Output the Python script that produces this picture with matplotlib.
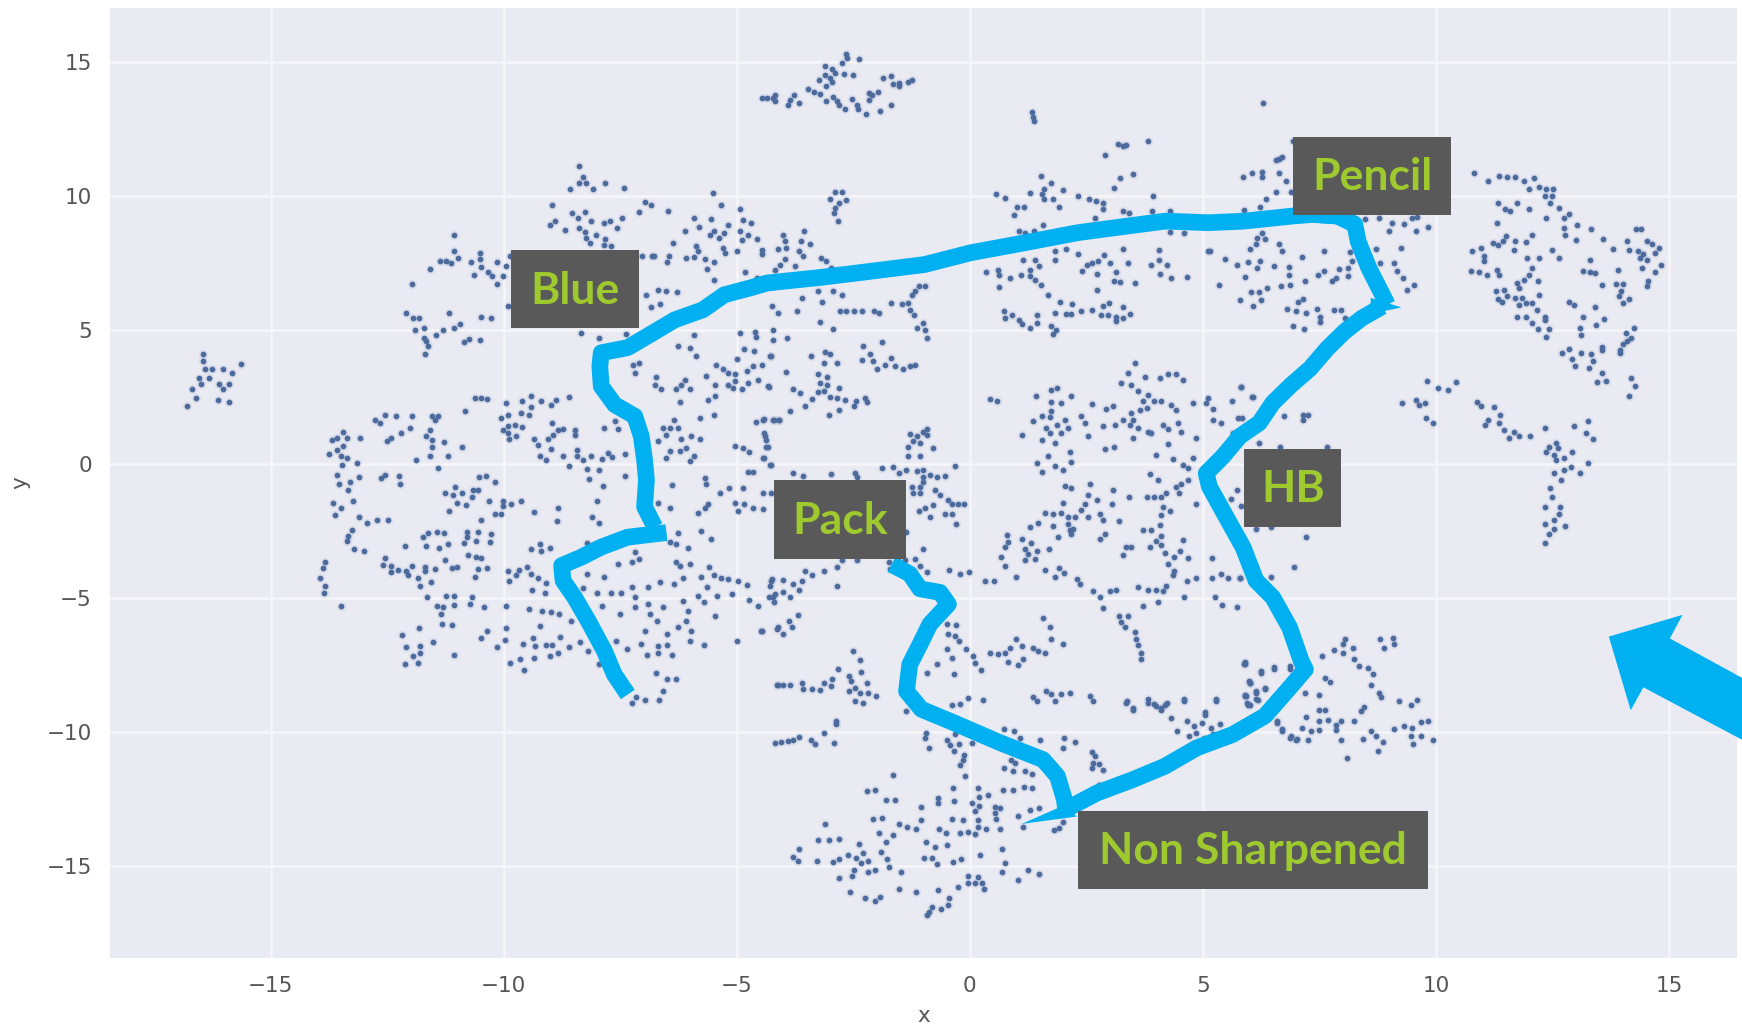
import matplotlib
matplotlib.use("Agg")
import matplotlib.pyplot as plt
from matplotlib.patches import Polygon, Rectangle
import numpy as np

# points, grouped by area of the map
far_left = [(-16.45,4.12),(-16.45,3.83),(-16.41,3.54),(-16.55,3.2),(-16.69,2.79),(-16.79,2.17),(-16.6,2.46),(-16.26,3.54),(-16.02,3.54),(-15.83,3.41),(-15.64,3.74),(-16.12,3.0),(-15.9,3.0),(-16.14,2.38),(-15.9,2.3),(-16.5,3.0),(-16.33,3.21),(-16.02,2.79)]

top = [(-2.65,15.31),(-2.63,15.16),(-2.38,15.11),(-2.75,14.96),(-3.10,14.84),(-2.95,14.75),(-2.89,14.59),(-2.71,14.56),(-2.5,14.5),(-3.1,14.5),(-3.24,14.31),(-3.0,14.38),(-3.08,14.09),(-2.96,14.25),(-1.87,14.41),(-1.69,14.46),(-1.64,14.19),(-1.51,14.21),(-1.51,14.09),(-1.32,14.25),(-1.25,14.31),(-3.47,14.0),(-3.35,13.88),(-3.21,13.81),(-2.16,13.84),(-1.97,13.88),(-2.09,13.75),(-2.16,13.59),(-4.46,13.65),(-4.35,13.65),(-4.23,13.65),(-4.18,13.78),(-4.18,13.53),(-3.77,13.75),(-3.85,13.56),(-3.66,13.47),(-3.91,13.4),(-3.08,13.54),(-2.93,13.69),(-2.85,13.53),(-2.81,13.41),(-2.68,13.25),(-2.52,13.63),(-2.43,13.41),(-2.39,13.25),(-2.22,13.04),(-1.93,13.15),(-1.69,13.38),
       (1.34,13.12),(1.36,12.95),(1.38,12.8),(3.17,11.94),(3.28,11.88),(3.36,11.91),(3.82,12.06),(2.91,11.53),(3.5,10.81),(3.22,10.65),(3.09,10.31),(6.30,13.47)]

upper_mid = [(1.52,10.75),(1.75,10.48),(1.6,10.25),(1.54,10.06),(1.29,10.1),(1.6,9.88),(2.0,10.21),(0.56,10.06),(0.75,9.94),(1.79,9.88),(1.92,9.6),(2.32,9.98),(2.55,9.88),(2.7,9.81),(2.85,9.75),(2.85,9.5),(1.02,9.6),(1.17,9.6),(0.94,9.29),(2.69,9.16),(3.28,9.44),(3.41,9.38),(3.93,9.98),(3.91,9.44),(4.29,9.44),(1.06,8.69),(1.19,8.6),(1.38,8.69),(1.57,8.9),
             (1.83,7.94),(2.06,8.03),(2.32,7.85),(2.88,7.81),(3.28,8.03),(4.05,7.98),(4.29,8.66),(4.6,8.6),(5.12,7.94),(1.13,7.6),(1.4,7.6),(1.83,7.6),(2.63,7.5),(2.75,7.56),(2.52,7.44),(2.4,7.19),(3.01,7.5),(3.4,7.5),(4.05,7.6),(3.88,7.44),(4.23,7.44),(0.6,7.25),(0.62,7.06),(0.35,7.15),(0.87,6.94),(1.1,7.04),(1.29,7.25),(1.48,7.38),(1.29,7.0),(1.4,6.88),(1.53,6.66),(0.62,6.6),(2.73,7.09),(3.13,7.16),(3.09,6.84),(3.22,6.79),(3.55,6.75),(4.07,7.1),(4.32,6.94),(4.66,6.98),(2.73,6.5),(1.67,6.29),(1.94,6.03),(2.19,5.96),(1.83,5.63),(2.06,5.6),(2.17,5.6),(2.38,5.69),(2.63,5.75),(2.86,5.91),(2.99,6.0),(3.28,5.85),(0.73,5.69),(0.75,5.44),(0.91,5.56),(1.06,5.38),(1.11,5.21),(1.29,5.06),(1.44,5.56),(1.44,5.25),(1.73,5.16),(1.84,5.0),(1.79,4.85),(2.82,5.54),(2.97,5.54),(3.13,5.5),(3.13,5.34),(3.28,5.44),(3.43,5.59)]

upper_left_mid = [(-5.52,10.1),(-5.35,9.66),(-4.94,9.5),(-6.47,9.44),(-5.92,9.19),(-5.56,9.13),(-4.87,9.1),(-4.69,9.0),(-5.82,8.85),(-5.19,8.91),(-6.11,8.69),(-5.5,8.69),(-5.58,8.56),(-5.27,8.6),(-5.38,8.44),(-4.94,8.69),(-4.76,8.56),(-4.56,8.41),(-4.9,8.35),(-4.0,8.56),(-3.56,8.69),(-3.96,8.31),(-3.62,8.31),(-3.44,8.19),(-6.38,8.25),(-5.88,8.13),(-5.84,7.94),(-5.3,8.06),(-5.26,7.88),(-5.0,7.94),(-4.46,8.0),(-4.46,7.85),(-4.12,8.03),(-3.94,8.06),(-3.67,7.94),(-3.58,7.75),(-6.82,7.75),(-6.46,7.75),(-6.1,7.69),(-5.92,7.71),(-5.69,7.65),(-6.5,7.54),(-5.48,7.54),(-3.96,7.63),(-4.08,7.44),(-3.2,7.69),(-3.08,7.59),(-3.75,7.38),(-5.65,7.28),(-4.19,7.25),(-4.82,7.15),(-2.97,7.31),(-5.5,6.88),(-4.56,6.94),
                  (-6.69,6.5),(-6.53,6.44),(-6.28,6.4),(-6.65,5.96),(-3.26,6.44),(-2.93,6.44),(-2.75,6.29),(-3.6,6.19),(-3.18,6.03),(-4.25,5.88),(-4.12,5.63),(-3.7,5.69),(-2.78,5.69),(-2.66,5.69),(-2.49,5.71),(-2.32,5.69),(-2.05,5.71),(-1.95,5.63),(-1.7,6.0),(-1.45,5.96),(-1.32,6.0),(-1.28,5.75),(-1.19,5.56),(-1.24,6.31),(-1.17,6.44),(-1.09,6.63),(-0.97,6.63),(-3.21,5.29),(-2.94,5.04),(-1.13,5.09),(-1.01,5.25),(-0.97,5.0),(-0.93,4.71),(-4.94,4.88),(-4.62,4.94),(-4.58,4.75),(-4.22,4.98),(-4.23,4.63),(-3.93,4.71),(-5.92,4.81),
                  (-2.89,10.16),(-2.74,10.13),(-3.01,9.9),(-2.66,9.84),(-2.81,9.75),(-2.89,9.56),(-2.91,9.38),(-2.84,9.06)]

upper_left = [(-8.38,11.13),(-8.3,10.69),(-8.38,10.5),(-8.24,10.5),(-8.57,10.25),(-8.08,10.25),(-7.82,10.48),(-7.43,10.31),(-8.97,9.66),(-6.96,9.78),(-6.84,9.66),(-7.09,9.4),(-8.54,9.35),(-8.25,9.4),(-8.4,9.16),(-8.12,9.06),(-7.72,9.06),(-7.47,9.16),(-7.84,9.0),(-8.9,9.06),(-9.0,8.9),(-8.68,8.71),(-8.38,8.79),(-8.25,8.66),(-8.03,8.56),(-7.57,8.79),(-8.24,8.44),(-7.82,8.41),(-8.15,8.25),(-7.84,8.15),(-7.69,8.13),(-7.19,7.81),(-7.03,7.75),(-6.78,7.75),
              (-11.06,8.53),(-11.07,7.94),(-10.98,7.69),(-11.36,7.59),(-11.25,7.59),(-11.13,7.48),(-11.59,7.28),(-11.96,6.73),(-10.52,7.88),(-10.52,7.66),(-10.71,7.53),(-10.15,7.54),(-9.87,7.75),(-9.95,7.38),(-10.5,7.34),(-10.64,7.06),(-10.34,7.16),(-10.25,7.0),(-10.02,7.0),(-10.15,6.73),(-9.91,5.88),
              (-12.09,5.63),(-11.95,5.44),(-11.82,5.44),(-11.72,5.09),(-11.9,5.0),(-11.71,4.69),(-11.17,5.63),(-10.48,5.5),(-10.28,5.46),(-10.94,5.21),(-11.06,5.06),(-11.3,4.98),(-11.46,4.81),(-10.75,4.66),(-10.52,4.63),(-8.34,4.88),(-7.95,4.71),(-7.38,4.84),(-6.94,6.29),(-6.84,5.84),(-11.66,4.59),(-11.62,4.41),(-11.69,4.09),(-10.86,4.55)]

left_inner = [(-7.23,3.71),(-7.09,3.78),(-7.19,3.4),(-6.74,3.25),(-6.76,2.96),(-6.62,2.78),(-6.26,4.4),(-6.01,4.34),(-5.87,4.03),(-6.12,3.15),(-6.19,2.96),(-6.3,2.78),(-6.01,2.78),(-6.21,2.3),(-6.34,1.65),(-5.8,1.71),(-5.48,1.84),(-5.62,2.4),(-5.46,2.55),(-5.66,3.28),(-5.46,2.96),(-5.44,3.71),(-5.3,3.53),(-5.19,3.4),(-5.05,3.34),(-5.05,3.09),(-5.19,2.96),(-5.09,2.84),(-4.89,2.78),(-4.76,3.03),(-4.55,3.15),(-4.3,2.88),(-5.0,3.9),(-4.84,4.3),(-4.63,4.21),(-4.26,4.03),(-4.66,3.65),(-4.46,3.71),(-4.78,3.46),
              (-4.59,1.56),(-4.42,1.68),(-4.23,1.63),(-4.09,1.63),(-4.41,1.15),(-4.37,0.9),(-4.34,0.65),(-5.05,0.68),(-4.87,0.59),(-4.73,0.46),(-4.42,0.21),(-4.26,-0.04),(-4.76,-0.29),(-4.65,-0.29),
              (-6.59,1.34),(-6.44,1.34),(-6.26,1.34),(-6.51,1.09),(-6.69,0.86),(-6.19,0.94),(-5.98,1.03),(-5.8,0.94),(-6.09,0.61),(-6.44,0.49),(-6.23,0.49),(-6.51,0.21),(-5.91,0.31),(-6.01,0.11),
              (-5.68,-0.54),(-5.66,-0.76),(-6.39,-0.79),(-5.16,-0.88),(-4.87,-0.88),(-5.37,-1.1),(-4.44,-1.1),(-4.26,-1.1),(-5.05,-1.44),(-4.84,-1.48),(-4.66,-1.66),(-4.43,-1.69),(-4.98,-1.75),(-5.69,-1.66),(-5.84,-1.83),(-5.62,-1.48),(-6.69,-1.44),(-6.44,-1.66),
              (-6.26,-2.56),(-5.76,-2.5),(-5.55,-2.79),(-6.44,-2.91),(-6.3,-3.0),(-6.05,-3.13),(-6.3,-3.66),(-6.23,-3.79),(-6.01,-3.73),(-5.59,-3.85),(-5.48,-4.16),(-5.34,-4.25),(-5.18,-4.29),(-4.97,-4.38),(-4.78,-4.5),(-5.76,-4.2),(-6.16,-4.25),(-6.34,-4.48),(-5.64,-4.6),(-6.64,-4.41),(-5.84,-4.91),(-5.7,-5.16),(-5.42,-4.91),(-5.11,-4.85),(-4.73,-5.08),(-4.55,-5.29),(-6.16,-5.1),(-6.05,-5.5),(-5.46,-5.69),(-6.09,-5.85),(-6.26,-6.1),(-5.98,-6.23),(-6.01,-6.6),(-5.71,-6.75),(-4.99,-6.6),(-4.48,-6.23),(-4.26,-4.35),(-4.23,-4.98),(-4.12,-6.1),(-4.12,-8.23)]

left_upper = [(-10.49,2.46),(-10.62,2.46),(-10.37,2.43),(-10.84,1.96),(-9.96,2.28),(-9.62,2.34),(-9.41,2.55),(-9.21,2.34),(-8.87,2.38),(-8.98,2.19),(-8.61,2.5),(-9.41,2.11),(-9.64,1.9),(-9.46,1.84),(-9.92,1.84),(-10.05,1.71),(-9.76,1.46),(-9.62,1.38),(-9.91,1.4),(-10.01,1.28),(-9.91,1.15),(-9.73,1.03),(-9.89,0.93),(-8.96,1.53),(-8.84,1.28),(-8.73,1.3),(-8.94,1.09),(-8.48,1.28),(-8.48,1.09),(-9.06,0.93),(-9.36,0.94),(-9.26,0.71),(-8.99,0.55),(-9.23,0.31),(-9.09,0.15),(-8.73,0.28),(-8.44,0.53),(-8.44,0.28),(-8.3,0.15),(-8.14,0.28),(-7.89,0.18),(-7.76,0.4),(-7.68,0.25),(-7.41,0.38),(-8.61,-0.08),(-8.21,-0.19),(-7.96,-0.23),(-8.18,-0.56),(-7.39,-0.45),(-7.87,-0.83),(-7.84,1.34),(-7.61,1.59),(-7.55,1.3),
              (-12.76,1.65),(-12.66,1.53),(-12.55,1.84),(-12.32,1.8),(-11.98,1.8),(-11.55,1.8),(-11.41,1.8),(-11.48,1.65),(-12.02,1.36),(-12.2,1.15),(-12.41,0.96),(-12.51,0.86),(-11.59,1.28),(-11.66,1.03),(-11.55,0.9),(-11.55,0.65),(-11.59,0.28),(-11.29,0.81),(-10.89,0.65),(-11.19,0.31),(-11.89,0.15),(-11.42,-0.16),
              (-13.46,1.19),(-13.69,0.9),(-13.59,0.96),(-13.36,0.96),(-13.09,0.96),(-13.46,0.68),(-13.59,0.53),(-13.76,0.38),(-13.49,0.31),(-13.36,0.21),(-13.47,-0.04),(-13.16,0.05),(-13.59,-0.41),(-13.11,-0.5),(-13.3,-0.66),(-13.54,-0.76),(-13.34,-0.98),(-13.23,-1.38),(-13.67,-1.44),(-13.5,-1.66),(-13.62,-1.91),(-13.1,-1.98),(-12.94,-2.19),(-12.73,-2.08),(-12.48,-2.08),(-13.26,-2.48),(-13.34,-2.69),(-13.36,-2.89),(-13.21,-3.19),(-13.0,-3.23),
              (-12.55,-0.41),(-12.64,-0.54),(-12.25,-0.45),(-12.23,-0.76),
              (-10.54,-0.5),(-10.39,-0.44),(-10.18,-0.66),(-10.66,-0.98),(-10.55,-0.98),(-10.69,-1.23),(-11.05,-0.85),(-11.26,-1.08),(-11.09,-1.16),(-10.89,-1.08),(-11.01,-1.44),(-10.82,-1.54),(-11.17,-1.76),(-10.32,-1.38),(-10.01,-1.38),(-9.84,-1.48),(-9.64,-1.38),(-10.01,-1.58),(-10.19,-1.85),(-10.05,-1.85),(-9.36,-1.81),(-8.84,-1.64),(-8.86,-2.14),(-8.01,-1.38),(-8.11,-1.98),(-7.96,-2.19),(-10.5,-2.08)]

left_lower = [(-11.73,-2.73),(-11.62,-2.58),(-11.44,-2.54),(-11.29,-2.58),(-11.66,-3.06),(-11.39,-3.13),(-11.19,-3.0),(-10.8,-2.54),(-10.8,-2.73),(-10.55,-2.54),(-10.59,-2.89),(-10.85,-2.95),(-10.28,-2.63),(-10.3,-2.91),(-12.11,-3.06),
              (-10.76,-3.38),(-10.59,-3.48),(-10.48,-3.5),(-12.55,-3.5),(-12.59,-3.76),(-12.41,-3.79),(-12.41,-4.04),(-12.26,-3.95),(-12.09,-3.98),(-11.98,-3.79),(-12.05,-4.16),(-11.84,-4.25),(-11.8,-4.54),(-11.69,-3.85),(-11.69,-4.0),(-11.48,-3.91),(-11.56,-4.41),(-11.26,-3.6),(-11.12,-3.89),(-11.0,-3.83),(-10.55,-3.91),(-10.37,-3.89),(-10.62,-4.23),
              (-9.41,-3.16),(-9.23,-3.0),(-9.01,-3.13),(-9.21,-3.25),(-8.21,-2.95),(-9.92,-3.98),(-9.68,-3.95),(-9.73,-4.16),(-9.89,-4.38),(-9.51,-3.85),(-9.41,-4.1),(-9.26,-4.25),(-9.09,-4.44),(-9.39,-4.7),(-9.11,-4.81),(-8.21,-4.1),(-7.84,-4.2),(-8.3,-4.64),(-8.01,-4.81),(-7.69,-4.81),(-7.48,-4.81),(-7.26,-4.6),(-7.19,-4.98),(-6.91,-4.6),(-7.19,-5.35),(-6.91,-5.23),(-6.59,-5.35),(-6.87,-5.58),(-7.51,-5.58),(-7.89,-5.31),(-6.71,-5.85),(-7.55,-3.73),(-7.26,-3.66),(-7.09,-3.56),(-7.18,-3.29),
              (-11.64,-4.98),(-11.23,-4.91),(-11.07,-4.91),(-10.68,-4.98),(-11.44,-5.31),(-11.3,-5.35),(-11.06,-5.25),(-10.73,-5.23),(-10.42,-5.35),(-9.96,-5.31),(-9.46,-5.41),(-9.18,-5.48),(-8.98,-5.54),(-8.81,-5.58),(-11.35,-5.58),(-13.5,-5.29),
              (-11.32,-5.98),(-11.12,-6.0),(-11.82,-6.13),(-9.23,-6.06),(-8.55,-5.85),(-10.36,-6.23),(-9.96,-6.13),(-10.5,-6.5),(-9.98,-6.56),(-9.37,-6.5),(-8.8,-6.44),
              (-12.18,-6.39),(-12.09,-6.83),(-11.8,-6.79),(-11.51,-6.66),(-11.94,-7.16),(-11.8,-7.04),(-12.11,-7.48),(-11.84,-7.44),(-11.07,-7.14),
              (-10.14,-6.83),(-9.59,-6.73),(-9.34,-6.79),(-9.09,-6.75),(-8.96,-6.75),(-8.61,-6.83),(-8.36,-6.66),(-8.19,-6.98),(-9.01,-7.16),(-8.84,-7.06),(-9.36,-7.23),(-9.66,-7.29),(-9.87,-7.44),(-9.56,-7.7),(-7.96,-7.48),
              (-7.59,-6.6),(-7.36,-6.89),(-7.05,-6.73),(-6.98,-6.23),(-6.49,-6.35),(-6.69,-6.79),(-6.49,-6.75),(-6.69,-7.04),(-6.92,-7.14),(-6.39,-7.14),(-6.74,-7.81),(-6.49,-8.04),(-6.3,-8.04),(-6.59,-8.48),(-6.68,-8.79),(-7.16,-8.7),(-6.98,-8.79),(-7.25,-8.91),
              (-13.84,-3.66),(-13.88,-3.88),(-13.94,-4.26),(-13.84,-4.54),(-13.86,-4.83)]

centre_left = [(-4.29,4.03),(-3.41,4.03),(-3.11,4.18),(-3.01,4.09),(-3.14,3.75),(-2.86,3.75),(-3.94,3.43),(-2.32,3.86),(-2.14,4.09),(-2.3,4.4),(-1.89,4.55),(-2.07,3.84),(-2.0,3.53),(-1.82,3.68),(-1.7,3.96),(-1.61,3.65),(-1.43,3.53),(-1.29,3.65),(-1.18,3.71),
               (-3.25,3.34),(-3.07,3.25),(-3.21,3.03),(-3.07,2.96),(-2.8,2.84),(-3.79,2.78),(-3.64,2.65),(-3.25,2.68),(-3.39,2.43),(-3.14,2.71),(-3.0,2.5),(-2.86,2.46),(-2.68,2.38),(-2.44,2.34),(-2.48,2.18),(-2.25,2.46),(-2.2,2.31),(-3.54,2.15),(-3.86,1.99),(-2.8,2.03),(-3.02,1.84),(-4.34,2.9),
               (-4.44,1.65),(-4.21,1.63),(-4.1,1.63),(-4.39,1.03),(-4.37,0.65),(-4.44,0.21),(-4.29,-0.04),
               (-1.29,1.13),(-1.14,1.03),(-1.0,1.21),(-0.91,1.09),(-1.21,0.84),(-1.07,0.78),(-1.32,0.63),(-0.8,0.59),(-1.32,0.3),(-1.07,0.31),(-0.93,1.3),
               (-1.89,-0.16),(-1.64,-0.1),(-1.52,-0.35),(-1.36,-0.23),(-1.14,-0.25),(-1.0,-0.23),(-0.32,-0.06),(-3.8,-0.33),(-3.57,-0.45),(-2.99,-0.39),(-2.46,-0.35),(-2.43,-0.48),(-1.0,-0.48),(-0.86,-0.41),(-0.71,-0.5),(-0.53,-0.44),(-1.0,-0.66),(-1.25,-0.85),(-1.07,-0.85),(-1.21,-1.1),(-1.06,-1.1),(-0.75,-0.98),(-0.64,-1.16),(-0.46,-1.33),(-0.39,-1.48),(-0.25,-1.48),(-0.12,-1.51),(-0.79,-1.54),(-0.96,-1.66),(-1.09,-1.75),(-0.86,-1.98),(-0.54,-1.85),(-0.39,-1.85),(-0.3,-2.25),
               (-1.36,-2.54),(-1.0,-3.16),(-1.18,-3.54),(-1.07,-3.79),(-0.93,-4.04),(-0.44,-3.95),(-0.21,-4.1),(-0.02,-4.04),(0.32,-4.38),(0.52,-4.38),(1.0,-4.23),(-1.74,-3.66),(-1.54,-3.6),(-1.39,-3.6),(-1.71,-3.91),
               (-2.75,-3.6),(-2.43,-3.6),(-2.86,-3.83),(-3.14,-3.98),(-3.54,-3.98),(-3.39,-4.16),(-3.61,-4.35),(-3.79,-4.48),(-4.01,-4.31),(-4.25,-4.29),(-4.29,-4.54),(-2.86,-4.54),(-4.0,-4.79),(-4.18,-4.85),(-3.66,-4.7),(-3.86,-4.98),(-4.3,-4.98),(-4.2,-5.16),
               (-3.68,-5.63),(-3.89,-5.85),(-4.14,-6.16),(-4.0,-6.35),(-3.82,-6.1),(-4.46,-6.23)]

centre_right = [(0.43,2.43),(0.59,2.34),(1.41,2.53),(1.75,2.75),(1.86,2.84),(2.16,2.55),(1.96,2.28),(1.73,2.3),(2.63,2.24),(2.93,2.05),(3.07,2.15),(1.75,1.96),(1.54,1.78),(1.36,1.59),(1.71,1.75),(1.64,1.34),(1.86,1.46),(2.04,1.65),(2.11,1.34),(1.96,1.15),(1.71,1.15),(1.54,0.9),(1.82,0.78),(1.11,1.09),(2.14,0.46),(2.18,0.09),(1.68,0.28),(1.44,0.05),(1.82,-0.08),(2.0,-0.23),(1.54,-0.29),(2.39,1.78),(2.46,1.53),(2.54,1.03),(2.86,1.4),(3.11,1.46),(3.29,1.65),(2.89,0.55),(3.09,0.65),
                (3.54,3.78),(3.39,3.4),(3.25,3.03),(3.75,3.25),(4.07,3.21),(4.25,3.34),(4.43,3.34),(4.57,3.15),(3.46,2.96),(3.61,2.71),(3.82,2.59),(3.71,2.34),(3.96,2.34),(4.11,2.34),(3.64,2.03),(3.79,2.09),(3.46,1.9),(3.5,1.65),(3.43,1.46),(3.61,1.34),(3.5,0.96),(3.82,1.21),(3.89,1.15),(4.14,1.46),(4.32,2.21),(4.43,2.0),(4.25,1.3),(4.46,1.53),(4.54,1.18),(4.25,0.75),(4.86,0.96),(4.79,2.28),(5.07,2.28),(5.21,2.05),(5.11,2.46),(5.21,1.65),(5.39,1.53),(5.75,1.71),(5.63,2.34),(5.82,2.88),(6.07,2.5),(5.64,1.15),
                (4.0,0.34),(4.36,0.18),(4.57,-0.04),(4.79,0.21),(4.68,-0.16),(3.86,-0.39),(4.04,-0.6),(4.68,-0.58),(4.54,-0.73),(4.43,-0.85),(4.49,-1.1),(4.86,-1.48),
                (2.04,-0.81),(2.18,-0.89),(2.57,-0.76),(3.07,-0.98),(2.53,-1.16),(2.72,-1.33),(3.04,-1.48),(2.46,-1.48),(3.41,-1.23),(3.79,-1.23),(3.96,-1.25),(4.11,-1.25),(4.21,-1.1),(2.0,-1.45),(2.38,-1.7),(1.61,-1.83),(1.79,-1.88),(1.96,-1.83),(2.11,-1.98),(2.25,-1.98),(2.53,-1.98),(2.79,-1.85),(2.86,-2.1),(3.21,-2.14),(4.14,-1.6),(4.29,-1.76),(4.1,-1.91),(1.46,-2.2),(1.29,-2.35),(1.79,-2.33),(2.11,-2.23),(2.14,-2.45),(2.21,-2.41),(2.16,-2.63),(2.89,-2.63),(2.79,-2.81),(1.89,-2.73),(4.07,-2.29),(3.71,-2.48),(3.89,-2.48),(4.11,-2.69),(4.0,-2.89),(3.86,-3.1),(4.11,-3.04),(4.57,-2.85),(4.5,-3.23),(4.39,-3.48),(4.18,-3.33),(4.68,-3.51),(4.25,-3.73),(4.39,-3.98),(4.36,-4.16),(3.36,-3.1),(3.29,-3.41),(3.46,-3.1),
                (0.79,-2.66),(0.82,-2.91),(1.11,-2.79),(1.32,-2.95),(1.7,-3.19),(0.75,-3.1),(0.66,-3.48),(0.76,-3.79),(1.18,-3.16),(1.43,-3.23),(1.25,-3.35),(1.18,-3.6),(1.39,-3.54),(1.61,-3.94),(1.91,-3.88),(1.82,-4.23),(2.01,-4.08),(2.29,-4.29),(2.36,-4.48),(2.64,-4.73),(2.79,-4.98),(3.0,-4.73),(3.14,-4.69),(3.61,-4.6),(3.82,-4.69),(4.0,-4.69),(4.14,-4.73),(4.21,-4.54),(4.04,-5.16),(3.71,-5.31),(2.86,-5.39),(4.66,-4.38),(4.86,-4.25),(4.59,-4.98),(5.2,-3.5),(5.19,-4.26),(5.39,-4.1),(5.54,-4.25),(5.79,-4.25),(5.25,-4.98),(5.41,-5.25),(5.73,-5.35),
                (3.21,-5.66),(3.39,-5.66),(3.25,-5.91),(3.32,-6.08),(3.54,-6.25),(3.57,-6.54),(3.61,-6.75),(3.68,-7.04),(3.68,-7.29),(5.73,-0.98),(5.61,-1.29),(5.82,-1.56)]

mid_lower = [(-0.5,-5.98),(-0.29,-6.0),(-0.46,-6.33),(-0.32,-6.41),(-0.24,-6.6),(-0.09,-6.91),(-0.5,-6.91),(0.07,-7.16),(0.11,-7.41),(-0.39,-7.25),(0.23,-7.7),(-0.71,-7.48),(-0.93,-7.81),(-0.34,-7.85),
             (0.44,-7.04),(0.61,-7.08),(0.75,-7.04),(0.86,-6.85),(0.82,-7.39),(1.04,-7.51),(1.14,-7.29),(1.0,-6.54),(1.11,-6.79),(1.36,-6.85),(1.46,-6.98),(1.61,-7.04),(1.75,-6.54),(2.0,-6.73),(1.57,-5.73),(1.71,-6.1),
             (-0.21,-8.94),(-0.04,-8.73),(-0.39,-9.0),(0.29,-8.79),(1.36,-8.7),(1.43,-8.85),(1.64,-8.48),(1.75,-8.6),(1.82,-8.85),(1.96,-8.58),(2.14,-8.54),(2.57,-8.66),(2.64,-8.83),
             (3.36,-8.91),(3.5,-9.16),(3.82,-8.91),(4.0,-9.04),(4.18,-8.98),(4.11,-9.16),(4.59,-8.85),(5.29,-8.85),(5.04,-9.35),(5.91,-7.48),(6.0,-8.16),(5.93,-8.66),(6.0,-8.98),
             (-4.14,-8.23),(-4.0,-8.23),(-3.86,-8.25),(-3.61,-8.16),(-3.57,-8.41),(-3.39,-8.41),(-3.21,-8.45),(-3.14,-8.16),(-2.96,-8.04),(-2.99,-8.29),(-2.84,-7.66),(-2.6,-7.91),(-2.51,-6.98),(-2.36,-7.33),(-2.34,-7.75),(-2.56,-8.1),(-2.2,-8.16),(-2.6,-8.48),(-2.46,-8.35),(-2.36,-8.54),(-2.18,-8.54),(-2.01,-8.66),(-2.46,-8.85),(-2.29,-8.91),(-1.36,-9.23)]

bottom = [(-2.88,-9.59),(-2.88,-9.71),(-3.13,-10.03),(-3.66,-10.18),(-4.18,-10.4),(-4.06,-10.36),(-3.91,-10.34),(-3.8,-10.3),(-3.41,-10.3),(-3.32,-10.43),(-2.91,-10.4),
          (-0.94,-10.03),(-0.97,-10.24),(-0.87,-10.61),(-0.5,-10.28),(-0.42,-10.5),(-0.31,-10.09),(-0.23,-10.43),(-0.33,-10.71),(-0.13,-10.84),(-0.15,-11.03),(-0.21,-11.24),(0.04,-10.4),(-0.1,-11.65),
          (0.74,-9.9),(0.94,-9.96),(1.07,-10.21),(1.5,-10.3),(2.01,-10.24),(2.25,-10.36),(1.99,-10.61),(2.61,-10.74),(2.68,-10.9),(2.65,-11.15),(2.61,-11.36),(2.76,-11.21),(2.85,-11.4),
          (0.88,-11.03),(0.96,-11.15),(0.73,-11.34),(0.92,-11.46),(1.19,-11.46),(1.34,-11.55),(2.78,-11.96),
          (0.71,-12.15),(0.92,-12.15),(1.17,-12.05),(1.34,-12.09),(1.28,-12.9),(1.48,-12.84),(1.04,-13.15),(1.15,-13.55),(1.8,-13.65),(1.92,-13.59),(1.99,-13.34),
          (0.17,-12.09),(-0.37,-12.09),(0.19,-12.44),(0.38,-12.34),(0.04,-12.65),(0.19,-12.75),(0.11,-12.96),(0.54,-12.78),(0.65,-12.84),(0.54,-13.03),(0.56,-13.24),(-0.35,-12.59),(-0.69,-12.46),(-0.69,-12.65),(-1.04,-12.8),
          (-1.04,-13.28),(-0.38,-13.24),(-0.15,-13.3),(0.18,-13.28),(0.18,-13.55),(0.35,-13.63),(0.65,-13.63),(-0.67,-13.61),(-0.52,-13.78),(-0.21,-13.78),(-0.04,-13.74),(0.1,-13.8),(-1.15,-13.63),(-1.34,-13.55),(-1.53,-13.43),
          (-1.65,-11.59),(-2.21,-12.21),(-2.03,-12.15),(-1.79,-12.55),(-1.61,-12.55),(-2.07,-13.24),(-1.89,-13.21),(-3.11,-13.44),(-1.94,-13.78),(-1.65,-13.86),(-1.79,-14.11),(-3.26,-14.03),(-3.03,-14.03),(-2.81,-14.0),(-2.38,-14.18),(-3.66,-14.38),(-3.8,-14.65),(-3.68,-14.8),(-3.27,-14.8),(-2.94,-14.86),(-2.81,-14.74),(-2.61,-14.59),(-2.45,-14.71),(-2.3,-14.53),(-2.19,-14.8),(-2.34,-14.9),(-1.9,-14.49),(-1.78,-14.75),(-1.73,-15.03),(-2.03,-15.15),(-2.19,-15.24),(-2.48,-15.15),(-2.53,-15.36),(-2.81,-15.46),(-1.48,-15.21),(-2.57,-15.96),(-2.26,-16.21),(-2.03,-16.3),(-1.92,-16.15),(-1.53,-15.84),(-1.15,-15.96),(-0.69,-15.9),
          (-0.94,-14.09),(-0.75,-14.28),(-0.5,-14.21),(-0.98,-14.69),(-0.81,-14.69),(-0.71,-14.93),(-0.37,-14.86),(-0.18,-14.75),(0.21,-14.59),(0.69,-14.38),(0.75,-14.9),(0.69,-15.24),(1.25,-15.15),(1.48,-15.31),(1.04,-15.53),
          (-0.05,-15.36),(0.18,-15.4),(-0.04,-15.65),(0.1,-15.65),(0.27,-15.65),(0.31,-15.86),(-0.25,-15.78),(-0.44,-16.18),(-0.46,-16.46),(-0.61,-16.59),(-0.81,-16.53),(-0.88,-16.71),(-0.92,-16.84),
          (5.9,-7.4),(6.25,-7.74),(6.53,-7.56),(6.86,-7.53),(5.98,-8.09),(6.13,-8.46),(6.34,-8.34),(5.9,-8.63),(5.94,-8.9),(6.13,-8.78),(6.6,-9.59),(6.7,-9.9),(6.9,-10.15),(7.02,-10.25),(5.04,-9.25),(5.28,-8.78),(4.6,-8.78),(4.32,-9.46),(4.65,-9.59),(4.81,-9.78),(4.98,-9.65),(5.18,-9.84),(5.37,-9.71),(4.45,-9.96),(4.7,-10.15),(4.85,-10.03),(5.02,-10.21),(5.21,-10.09),(3.37,-8.84),(3.51,-9.09),(3.83,-8.78),(3.95,-8.96),(4.1,-9.09),(4.22,-8.9)]

right_mid = [(9.81,3.09),(10.04,2.84),(10.25,2.75),(10.44,3.05),(9.27,2.28),(9.57,2.38),(9.64,2.21),(9.77,2.28),(9.79,1.71),(9.94,1.53),(10.89,2.31),(10.96,2.18),(11.25,2.11),(11.38,1.84),(11.11,1.65),(11.06,1.44),(11.36,1.53),(11.46,1.28),(11.57,0.96),(11.68,1.21),(11.79,1.03),(12.02,1.03),(12.34,1.34),(12.96,1.4),(13.27,1.59),(13.21,1.15),(13.36,0.94),
             (12.57,0.78),(12.43,0.65),(12.37,0.43),(12.61,0.59),(12.54,0.34),(12.75,0.21),(12.93,0.43),(12.57,0.13),(13.27,0.05),(12.89,-0.1),(12.75,-0.23),(12.54,-0.35),(13.09,-0.35),(12.68,-0.6),(12.44,-0.91),(12.5,-1.25),(12.34,-1.6),(12.66,-1.6),(12.64,-1.85),(12.54,-2.1),(12.34,-2.25),(12.77,-2.3),(12.54,-2.41),(12.43,-2.6),(12.34,-2.95),
             (12.7,4.13),(12.86,4.3),(13.11,4.13),(12.93,3.93),(12.99,3.65),(13.32,4.09),(13.36,3.84),(13.29,3.59),(13.56,4.38),(13.96,4.24),(13.56,3.4),(13.46,3.05),(13.64,3.09),(14.19,3.21),(14.28,2.9),(14.14,2.55),(14.11,4.59),
             (6.06,2.5),(5.82,2.88),(7.14,1.84),(7.25,1.84),(7.14,1.65),(6.75,1.8),(5.84,1.71),(6.21,0.78),(6.66,0.63),(7.66,0.63),(6.14,-2.44),(6.46,-2.35),(7.21,-2.73),(6.96,-3.83),(6.46,-4.23),(5.79,-4.25)]

lower_right = [(8.04,-6.54),(8.0,-6.73),(7.82,-6.95),(8.0,-7.04),(7.56,-7.16),(8.21,-6.88),(8.25,-7.29),(8.36,-7.54),(8.54,-7.6),(8.64,-7.85),(8.6,-8.25),(8.78,-8.54),(8.82,-8.7),(8.79,-6.54),(9.07,-6.48),(8.89,-6.88),(9.09,-6.73),(7.61,-8.0),(7.73,-8.13),(7.18,-8.56),(7.5,-8.63),(7.5,-9.16),(7.61,-9.16),(8.39,-9.23),(8.46,-9.08),(9.21,-8.85),(9.46,-8.98),(9.59,-8.79),
               (7.21,-9.45),(6.59,-9.66),(6.69,-9.98),(7.12,-9.85),(7.31,-9.98),(7.5,-9.6),(7.5,-9.91),(7.68,-9.54),(7.86,-9.73),(7.96,-9.6),(7.86,-9.91),(8.25,-9.6),(6.86,-10.23),(7.0,-10.31),(7.25,-10.31),(7.96,-10.31),(8.44,-10.25),(8.6,-9.98),(8.71,-10.16),(8.87,-10.38),(8.75,-10.7),(8.09,-10.98),(9.11,-9.88),(9.31,-9.76),(9.49,-9.85),(9.68,-9.64),(9.82,-9.6),(9.46,-10.13),(9.68,-10.16),(9.5,-10.45),(9.94,-10.31),
               (5.89,-7.48),(6.25,-7.81),(6.52,-7.66),(6.86,-7.66),(6.0,-8.16),(6.14,-8.54),(6.34,-8.41),(5.9,-8.66),(5.96,-8.98),(6.18,-8.79)]

upper_right = [(10.81,10.85),(11.11,10.56),(11.36,10.75),(11.52,10.69),(11.7,10.69),(11.89,10.56),(12.11,10.66),(12.0,10.25),(12.22,10.34),(12.37,10.25),(12.52,10.25),(12.48,10.0),(12.33,10.0),(12.44,9.75),(12.63,9.56),(12.85,9.31),(12.74,9.16),(11.33,9.73),(11.48,9.5),(11.59,9.44),(11.73,9.75),(11.99,9.5),(12.37,9.19),(11.31,9.0),(13.02,8.91),(12.74,8.81),(12.78,8.56),(13.33,8.75),(13.0,8.35),(13.59,8.38),(14.3,8.75),(14.41,8.75),
               (11.5,8.5),(11.44,8.31),(12.07,8.56),(11.22,8.25),(11.33,8.16),(11.7,8.31),(11.93,8.29),(10.78,7.94),(10.96,8.06),(11.68,7.98),(11.04,7.75),(11.04,7.56),(11.96,7.69),(12.21,7.69),(12.48,7.98),(12.64,7.69),(13.3,7.6),(13.8,8.03),(14.11,8.31),(14.15,7.98),(14.52,8.31),(14.63,8.19),(14.78,8.06),(14.33,7.94),(14.44,7.84),(14.7,7.88),(14.84,7.44),(14.37,7.69),(14.53,7.6),(14.43,7.31),(14.69,7.16),
               (10.76,7.21),(10.93,7.16),(11.09,7.04),(11.3,7.25),(11.36,7.06),(12.07,7.31),(12.0,7.06),(11.89,6.88),(12.19,6.81),(11.74,6.75),(11.78,6.56),(13.15,7.21),(13.3,7.16),(13.41,7.13),(13.9,7.25),(13.56,6.66),(13.87,6.73),(14.02,6.73),(13.98,6.44),(13.93,6.25),(14.15,6.16),(14.02,6.0),(14.56,6.81),(14.52,6.63),
               (11.28,6.46),(11.46,6.5),(11.33,6.16),(11.52,6.25),(11.41,6.04),(11.7,6.21),(11.85,6.19),(11.78,5.94),(11.93,6.0),(12.07,6.0),(12.21,6.29),(12.17,5.75),(11.74,5.5),(11.93,5.5),(12.07,5.25),(12.33,5.5),(12.33,5.38),(12.19,5.04),(12.42,5.04),(12.37,4.75),
               (12.85,6.04),(12.96,5.94),(13.42,5.84),(13.15,5.5),(13.61,5.41),(13.44,5.19),(14.24,5.09),(13.1,5.06),(13.11,4.81),(14.07,4.88),(14.19,4.69),(14.02,4.46),(13.56,4.25),(13.95,4.15)]

pencil_area = [(6.64,11.38),(6.57,11.35),(6.7,11.44),(6.94,12.06),(5.87,10.69),(6.06,10.85),(6.27,10.91),(6.27,10.69),(6.64,10.85),(6.78,10.56),(6.57,10.16),(6.35,9.9),(6.22,9.6),(5.89,9.48),(6.89,10.16),
               (8.48,9.13),(8.78,9.16),(9.06,8.98),(9.31,8.96),(9.48,9.16),(9.59,9.21),(9.84,8.85),(9.0,8.69),(9.58,8.69),
               (6.26,8.6),(6.33,8.41),(6.17,8.44),(6.0,8.03),(6.15,8.19),(6.63,8.21),(6.7,7.96),(5.15,7.94),(5.48,7.63),(5.74,7.44),(5.96,7.53),(6.22,7.59),(6.17,7.31),(6.52,7.4),(7.13,7.71),(7.59,7.96),(8.15,7.91),(8.72,8.03),(9.24,8.06),(8.19,7.56),(8.81,7.5),(9.09,7.5),(6.85,7.34),(6.85,7.04),(5.91,6.98),(5.35,6.69),(7.93,7.28),(7.59,7.21),(7.48,7.06),(8.11,7.31),(8.11,7.0),(7.85,6.94),(7.78,6.81),(7.19,6.84),(6.87,6.66),(6.68,6.63),(9.16,7.21),(9.3,6.94),(9.52,6.66),(9.39,6.5),(6.37,6.56),(6.04,6.4),(6.21,6.4),(5.8,6.13),(6.25,6.13),(6.08,5.88),(7.15,6.16),(7.04,6.03),(6.81,5.79),(7.0,5.69),(7.21,5.63),(7.44,5.79),(7.52,5.5),(7.52,5.29),(7.81,5.75),(7.96,5.75),(8.04,5.46),(6.93,5.13),(7.16,5.03)]

all_groups = [far_left, top, upper_mid, upper_left_mid, upper_left, left_inner, left_upper, left_lower,
              centre_left, centre_right, mid_lower, bottom, right_mid, lower_right, upper_right, pencil_area]

# hand drawn strokes on top of the map
blue_stroke = [(8.26,8.94),(7.89,9.25),(7.37,9.31),(6.93,9.25),(5.89,9.06),(5.12,9.0),(4.2,9.06),(3.4,8.88),(2.32,8.63),(1.17,8.25),(0.02,7.88),(-0.97,7.44),(-2.12,7.19),(-3.2,6.96),(-4.35,6.75),(-4.73,6.56),(-5.27,6.31),(-5.73,5.75),(-6.33,5.38),(-6.88,4.81),(-7.34,4.34),(-7.91,4.15),(-7.94,3.65),(-7.91,2.9),(-7.62,2.21),(-7.19,1.78),(-7.05,1.03),(-6.98,0.15),(-6.94,-0.6),(-6.98,-1.6),(-6.76,-2.35)]
blue_stroke_2 = [(-6.51,-2.56),(-7.34,-2.73),(-7.91,-3.1),(-8.34,-3.48),(-8.76,-3.79),(-8.73,-4.35),(-8.48,-4.98),(-8.19,-5.85),(-7.84,-6.98),(-7.63,-7.85),(-7.34,-8.6)]
pencil_stroke = [(7.37,9.31),(7.89,9.25),(8.26,8.94),(8.33,8.31),(8.56,7.31),(8.78,6.56),(8.96,5.94)]
hb_stroke = [(8.85,5.88),(8.41,5.44),(8.04,4.94),(7.67,4.31),(7.3,3.56),(6.89,2.94),(6.5,2.28),(6.21,1.53),(5.79,1.03),(5.43,0.28),(5.07,-0.35),(5.14,-0.85),(5.5,-1.98),(5.86,-3.1),(6.14,-4.35),(6.5,-4.98),(6.86,-6.1),(7.11,-7.35),(7.2,-7.66),(6.86,-8.35),(6.33,-9.4),(5.64,-10.09),(4.87,-10.59),(4.18,-11.28),(3.49,-11.78),(2.72,-12.28),(2.11,-12.84)]
pack_stroke = [(-1.68,-3.75),(-1.29,-4.1),(-1.07,-4.66),(-0.64,-4.79),(-0.46,-5.23),(-0.86,-5.98),(-1.07,-6.73),(-1.29,-7.48),(-1.36,-8.48),(-1.04,-9.15),(-0.35,-9.65),(0.65,-10.4),(1.57,-11.03),(1.88,-11.65),(2.03,-12.53),(2.07,-13.15)]
tip_pencil = [(8.6,6.2),(9.26,5.84),(8.6,5.6)]
tip_bottom = [(1.11,-13.43),(1.96,-12.78),(2.3,-13.15)]
big_arrow = [(13.71,-6.44),(15.29,-5.63),(15.02,-6.51),(16.57,-7.98),(16.57,-10.29),(14.45,-8.33),(14.18,-9.19)]

# label boxes: text, x0, x1, y0, y1
box_names = ["Pencil", "Blue", "Pack", "HB", "Non Sharpened"]
box_x0 = [6.94, -9.85, -4.2, 5.89, 2.31]
box_x1 = [10.33, -7.10, -1.37, 7.97, 9.83]
box_y0 = [9.3, 5.06, -3.53, -2.36, -15.85]
box_y1 = [12.21, 7.97, -0.6, 0.56, -12.94]

ticks = [-15, -10, -5, 0, 5, 10, 15]
stroke_color = "#00b0f0"
fontsize = 15.5

fig = plt.figure(figsize=(17.42, 10.30), dpi=100)
ax = fig.add_axes([110/1742, 72/1030, 1627/1742, 950/1030])
ax.set_facecolor("#eaeaf2")
for s in ax.spines.values():
    s.set_visible(False)

pts = np.array([p for g in all_groups for p in g])
# soft halo under the dots, the reference is a blurry screenshot
ax.scatter(pts[:, 0], pts[:, 1], s=44, color="#4c72b0", alpha=0.10, linewidths=0, zorder=2.5)
ax.scatter(pts[:, 0], pts[:, 1], s=17, color="#4c6a9c", linewidths=0, zorder=3)

ax.set_xlim(-18.45, 16.46)
ax.set_ylim(-18.43, 17.01)
ax.set_xticks(ticks)
ax.set_yticks(ticks)
ax.grid(True, color="#f6f6f9", linewidth=1.8, zorder=1)
ax.set_axisbelow(True)
ax.tick_params(length=0, labelsize=fontsize, labelcolor="#555555", pad=13)
ax.set_xlabel("x", fontsize=fontsize, color="#555555", labelpad=7)
ax.set_ylabel("y", fontsize=fontsize, color="#555555", labelpad=12)

for line in [blue_stroke, blue_stroke_2, pencil_stroke, hb_stroke, pack_stroke]:
    xy = np.array(line)
    ax.plot(xy[:, 0], xy[:, 1], color=stroke_color, linewidth=12, solid_joinstyle="round",
            solid_capstyle="butt", zorder=4)
for shape in [tip_pencil, tip_bottom]:
    ax.add_patch(Polygon(shape, closed=True, color=stroke_color, linewidth=0, zorder=4))
ax.add_patch(Polygon(big_arrow, closed=True, color=stroke_color, linewidth=0, zorder=4, clip_on=False))

for name, x0, x1, y0, y1 in zip(box_names, box_x0, box_x1, box_y0, box_y1):
    ax.add_patch(Rectangle((x0, y0), x1 - x0, y1 - y0, color="#595959", linewidth=0, zorder=5))
    ax.text((x0 + x1) / 2, (y0 + y1) / 2 - 0.05, name, color="#9ec92f", fontsize=32, fontweight="bold",
            family="Lato", ha="center", va="center", zorder=6)

plt.savefig("out.png", dpi=100)
